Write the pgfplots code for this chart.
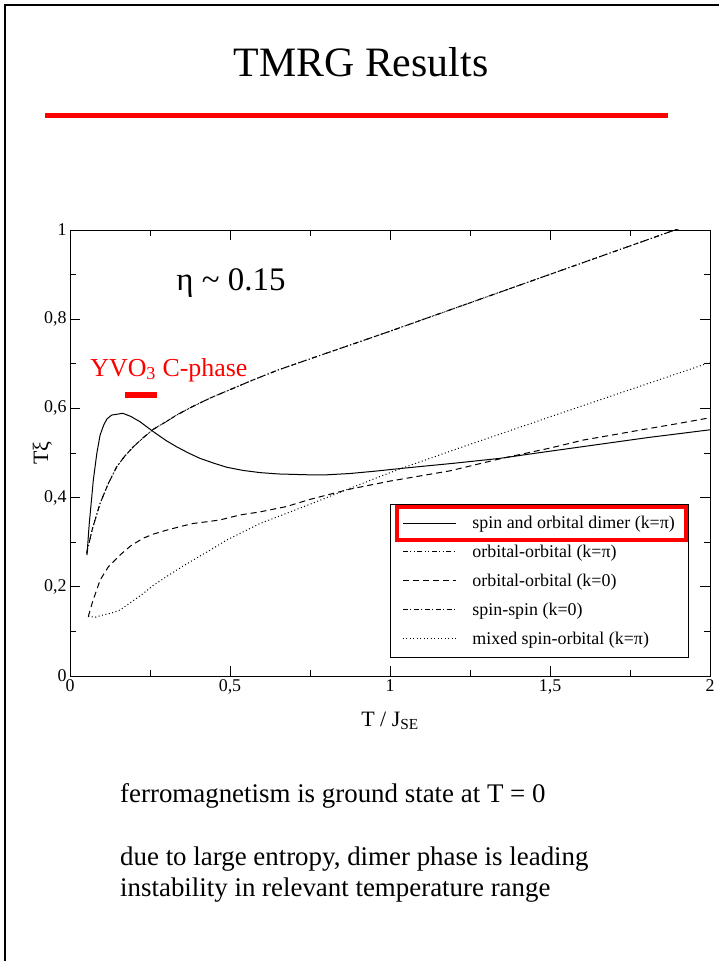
\documentclass[border=0pt]{standalone}
\usepackage{fontspec}
\setmainfont{Liberation Serif}
\usepackage{pgfplots}
\pgfplotsset{compat=1.18}
\begin{document}
\begin{tikzpicture}[x=1bp,y=1bp]
\path[use as bounding box] (0,0) rectangle (719,961);
\draw[line width=2bp] (5,0) -- (5,956) -- (719,956);
\node[font=\fontsize{42}{50}\selectfont, anchor=base] at (361,884) {TMRG Results};
\fill[red] (45,842.5) rectangle (668,847.5);
\begin{axis}[
  at={(70bp,285bp)}, anchor=south west,
  scale only axis, width=640bp, height=446bp,
  xmin=0, xmax=2, ymin=0, ymax=1,
  xtick={0,0.5,1,1.5,2}, ytick={0,0.2,0.4,0.6,0.8,1},
  minor x tick num=1, minor y tick num=1,
  tick align=inside, major tick length=10bp, minor tick length=6bp,
  axis line style={line width=0.8bp},
  every tick/.style={line width=0.8bp, black},
  /pgf/number format/use comma,
  /pgf/number format/assume math mode=true,
  tick label style={font=\fontsize{18}{20}\selectfont},
  xlabel={T / J\textsubscript{SE}},
  ylabel={Tξ},
  label style={font=\fontsize{22}{24}\selectfont},
  xlabel style={at={(axis description cs:0.5,-0.1)}, anchor=center},
  ylabel style={at={(axis description cs:-0.043,0.5)}, anchor=center},
  legend style={at={(0.5,0.04)}, anchor=south west, draw=black, line width=0.8bp,
    font=\fontsize{18}{20}\selectfont, inner xsep=12bp, inner ysep=10bp,
    row sep=11bp, nodes={inner sep=2bp}},
  legend cell align=left,
  legend image code/.code={\draw[#1, line width=1bp] (0bp,0bp) -- (53bp,0bp);},
  /tikz/every odd column/.append style={column sep=14bp},
]
\addplot[black, line width=1bp] coordinates {
(0.053,0.271) (0.06,0.34) (0.073,0.44) (0.084,0.50) (0.094,0.540) (0.105,0.562) (0.115,0.576) (0.13,0.585) (0.165,0.589) (0.19,0.582) (0.219,0.570) (0.26,0.548) (0.3,0.528) (0.333,0.514) (0.37,0.500) (0.406,0.488) (0.45,0.477) (0.49,0.468) (0.54,0.461) (0.594,0.456) (0.65,0.453) (0.75,0.451) (0.8,0.451) (0.875,0.454) (0.95,0.459) (1.03,0.465) (1.1,0.470) (1.2,0.477) (1.344,0.488) (1.45,0.499) (1.6,0.514) (1.7,0.524) (1.81,0.535) (1.9,0.543) (2.0,0.552)};
\addlegendentry{spin and orbital dimer (k=π)}
\addplot[black, line width=1bp, dash pattern=on 5bp off 2.5bp on 1bp off 2.5bp on 1bp off 2.5bp] coordinates {
(0.052,0.275) (0.07,0.33) (0.094,0.387) (0.12,0.432) (0.146,0.469) (0.17,0.492) (0.198,0.514) (0.23,0.535) (0.26,0.553) (0.3,0.570) (0.333,0.585) (0.38,0.603) (0.4375,0.623) (0.5,0.642) (0.573,0.664) (0.65,0.686) (0.75,0.711) (0.875,0.742) (1.0,0.773) (1.2,0.824) (1.4,0.875) (1.6,0.926) (1.8,0.977) (1.906,1.004) (2.0,1.028)};
\addlegendentry{orbital-orbital (k=π)}
\addplot[black, line width=1bp, dash pattern=on 6bp off 4bp] coordinates {
(0.057,0.133) (0.07,0.165) (0.094,0.215) (0.12,0.245) (0.156,0.271) (0.19,0.292) (0.229,0.309) (0.26,0.318) (0.302,0.327) (0.35,0.336) (0.385,0.342) (0.43,0.346) (0.469,0.350) (0.531,0.361) (0.594,0.368) (0.677,0.380) (0.75,0.396) (0.875,0.419) (1.0,0.437) (1.1875,0.46) (1.35,0.488) (1.5,0.511) (1.604,0.529) (1.7,0.541) (1.81,0.555) (1.9,0.566) (2.0,0.579)};
\addlegendentry{orbital-orbital (k=0)}
\addplot[black, line width=1bp, dash pattern=on 5bp off 2.5bp on 1bp off 2.5bp] coordinates {
(0.052,0.275) (0.07,0.33) (0.094,0.387) (0.12,0.432) (0.146,0.469) (0.17,0.492) (0.198,0.514) (0.23,0.535) (0.26,0.553) (0.3,0.570) (0.333,0.585) (0.38,0.603) (0.4375,0.623) (0.5,0.642) (0.573,0.664) (0.65,0.686) (0.75,0.711) (0.875,0.742) (1.0,0.773) (1.2,0.824) (1.4,0.875) (1.6,0.926) (1.8,0.977) (1.906,1.004) (2.0,1.028)};
\addlegendentry{spin-spin (k=0)}
\addplot[black, line width=1bp, dash pattern=on 1bp off 2.5bp] coordinates {
(0.057,0.133) (0.08,0.132) (0.104,0.137) (0.13,0.141) (0.156,0.148) (0.19,0.165) (0.229,0.185) (0.26,0.203) (0.302,0.223) (0.35,0.245) (0.385,0.26) (0.44,0.283) (0.49,0.305) (0.594,0.342) (0.75,0.385) (0.844,0.412) (0.95,0.442) (1.03,0.464) (1.2,0.507) (1.5,0.581) (1.75,0.642) (2.0,0.703)};
\addlegendentry{mixed spin-orbital (k=π)}
\node[font=\fontsize{33}{36}\selectfont] at (axis cs:0.503,0.881) {η \textasciitilde{} 0.15};
\node[font=\fontsize{26}{28}\selectfont, text=red] at (axis cs:0.309,0.686) {YVO\textsubscript{3} C-phase};
\draw[red, line width=6bp] (axis cs:0.172,0.63) -- (axis cs:0.272,0.63);
\end{axis}
\draw[red, line width=3.5bp] (397,421) rectangle (686,454);
\begin{scope}[font=\fontsize{27}{31}\selectfont]
\node[anchor=base west, inner sep=0] at (120,158) {ferromagnetism is ground state at T = 0};
\node[anchor=base west, inner sep=0] at (120,95) {due to large entropy, dimer phase is leading};
\node[anchor=base west, inner sep=0] at (120,64) {instability in relevant temperature range};
\end{scope}
\end{tikzpicture}
\end{document}
